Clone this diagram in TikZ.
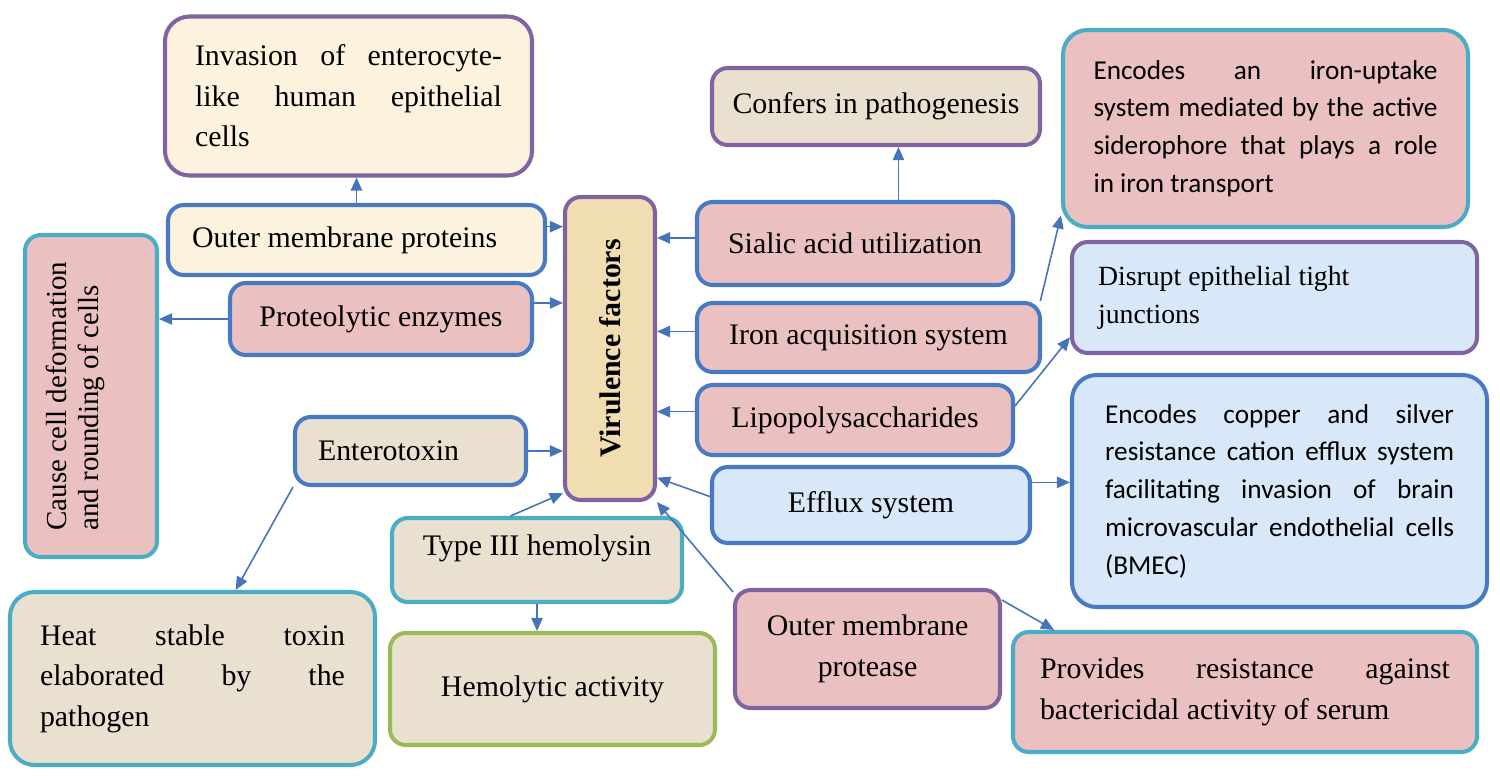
\documentclass[tikz,border=0pt]{standalone}
\usepackage{fontspec}
\setmainfont{Liberation Serif}
\newfontfamily\calibfont{Carlito}
\usepackage{graphicx}
\definecolor{edgeblue}{RGB}{72, 122, 196}
\definecolor{edgepurple}{RGB}{128, 100, 162}
\definecolor{edgeteal}{RGB}{75, 172, 198}
\definecolor{edgegreen}{RGB}{155, 187, 89}
\definecolor{fillpink}{RGB}{234, 192, 192}
\definecolor{fillcream}{RGB}{252, 242, 222}
\definecolor{filltan}{RGB}{240, 222, 178}
\definecolor{fillsand}{RGB}{233, 224, 208}
\definecolor{fillsky}{RGB}{216, 232, 248}
\definecolor{arrowblue}{RGB}{70, 115, 185}
\usetikzlibrary{arrows.meta, calc}
\newlength{\colw}
\newcommand{\jl}[1]{\makebox[\colw][s]{\spaceskip=0pt\xspaceskip=0pt #1}}

\tikzset{
  card/.style={draw, rounded corners=9pt, line width=2.3pt, align=center, inner sep=4pt,
    font=\fontsize{17}{23}\selectfont},
  bigcard/.style={card, rounded corners=14pt},
  dims/.style 2 args={minimum width=#1*0.02cm, minimum height=#2*0.02cm},
  textcol/.style={text width=#1, align=justify, /utils/exec={\setlength{\colw}{#1}}},
  calib/.style={font=\calibfont\fontsize{15.5}{21.5}\selectfont},
  link/.style={-{Triangle[length=7.5pt, width=6.5pt]}, draw=arrowblue, line width=0.9pt}
}

\begin{document}
\begin{tikzpicture}[x=0.02cm, y=-0.02cm]
  \useasboundingbox (0,0) rectangle (1500,775);

  % Central hub
  \node[card, draw=edgepurple, fill=filltan, dims={90}{303}] (vf) at (610, 348.5)
    {\rotatebox{90}{\bfseries Virulence factors}};

  % Left side
  \node[bigcard, draw=edgepurple, fill=fillcream, dims={367}{159}, textcol=6.14cm] (inv) at (348.5, 96) {
    \jl{Invasion of enterocyte-}\\
    \jl{like human epithelial}\\
    cells
  };
  \node[card, draw=edgeblue, fill=fillcream, dims={377}{70}, textcol=6.58cm] (omp) at (356.5, 240) {Outer membrane proteins};
  \node[card, draw=edgeteal, fill=fillpink, dims={132}{322}, font=\fontsize{16.5}{18}\selectfont] (cause) at (91, 396)
    {\rotatebox{90}{\begin{tabular}{@{}l@{}}Cause cell deformation\\ and rounding of cells\\[17pt]\end{tabular}}};
  \node[card, draw=edgeblue, fill=fillpink, dims={302}{72}] (prot) at (381, 319) {Proteolytic enzymes};
  \node[card, draw=edgeblue, fill=fillsand, dims={231}{68}, textcol=3.7cm] (ent) at (410.5, 451) {Enterotoxin};
  \node[bigcard, draw=edgeteal, fill=fillsand, dims={365}{173}, textcol=6.1cm] (heat) at (192.5, 678.5) {
    \jl{Heat stable toxin}\\
    \jl{elaborated by the}\\
    pathogen
  };
  \node[card, draw=edgeteal, fill=fillsand, dims={290}{84}] (type3) at (537, 560) {Type III hemolysin\\[-6pt]};
  \node[card, draw=edgegreen, fill=fillsand, dims={325}{112}] (hemo) at (552.5, 689) {Hemolytic activity};

  % Right side
  \node[card, draw=edgepurple, fill=fillsand, dims={328}{77}] (conf) at (876, 106.5) {Confers in pathogenesis};
  \node[card, draw=edgeblue, fill=fillpink, dims={316}{83}] (sial) at (855, 243.5) {Sialic acid utilization};
  \node[card, draw=edgeblue, fill=fillpink, dims={343}{69}] (iron) at (868.5, 337.5) {Iron acquisition system};
  \node[card, draw=edgeblue, fill=fillpink, dims={316}{70}] (lps) at (855, 420) {Lipopolysaccharides};
  \node[card, draw=edgeblue, fill=fillsky, dims={318}{76}] (efflux) at (871, 505) {Efflux system};
  \node[card, draw=edgepurple, fill=fillpink, dims={265}{118}] (ompt) at (867.5, 649) {Outer membrane\\protease};

  % Far right
  \node[bigcard, calib, draw=edgeteal, fill=fillpink, dims={405}{197}, textcol=6.88cm] (ironup) at (1265.5, 128.5) {
    \jl{Encodes an iron-uptake}\\
    \jl{system mediated by the active}\\
    \jl{siderophore that plays a role}\\
    in iron transport
  };
  \node[card, draw=edgepurple, fill=fillsky, dims={405}{111}, textcol=7.06cm,
    font=\fontsize{15.8}{21.5}\selectfont] (disr) at (1274.5, 297.5) {Disrupt epithelial tight\\junctions};
  \node[bigcard, calib, draw=edgeblue, fill=fillsky, dims={415}{232}, textcol=6.98cm] (copper) at (1279.5, 491) {
    \jl{Encodes copper and silver}\\
    \jl{resistance cation efflux system}\\
    \jl{facilitating invasion of brain}\\
    \jl{microvascular endothelial cells}\\
    (BMEC)
  };
  \node[card, draw=edgeteal, fill=fillpink, dims={464}{120}, textcol=8.2cm] (serum) at (1245, 692) {
    \jl{Provides resistance against}\\
    bactericidal activity of serum
  };

  % Links into the hub
  \draw[link] (omp.4) -- (omp.4 -| vf.west);
  \draw[link] (prot.6) -- (prot.6 -| vf.west);
  \draw[link] (ent.east) -- (ent.east -| vf.west);
  \draw[link] (type3.121) -- (vf.252);
  \draw[link] (sial.178) -- (sial.178 -| vf.east);
  \draw[link] (iron.178) -- (iron.178 -| vf.east);
  \draw[link] (lps.177) -- (lps.177 -| vf.east);
  \draw[link] (efflux.177) -- (vf.-70);
  \draw[link] (ompt.157) -- (vf.-73);

  % Links to effects
  \draw[link] (omp.north) -- (omp.north |- inv.south);
  \draw[link] (prot.west) -- (prot.west -| cause.east);
  \draw[link] (ent.south west) -- (heat.64);
  \draw[link] (type3.south) -- (type3.south |- hemo.north);
  \draw[link] (conf.-61 |- sial.north) -- (conf.-61);
  \draw[link] (iron.12) -- (ironup.203);
  \draw[link] (lps.5) -- (disr.191);
  \draw[link] (efflux.8) -- (efflux.8 -| copper.west);
  \draw[link] (ompt.20) -- (serum.162);
\end{tikzpicture}
\end{document}
